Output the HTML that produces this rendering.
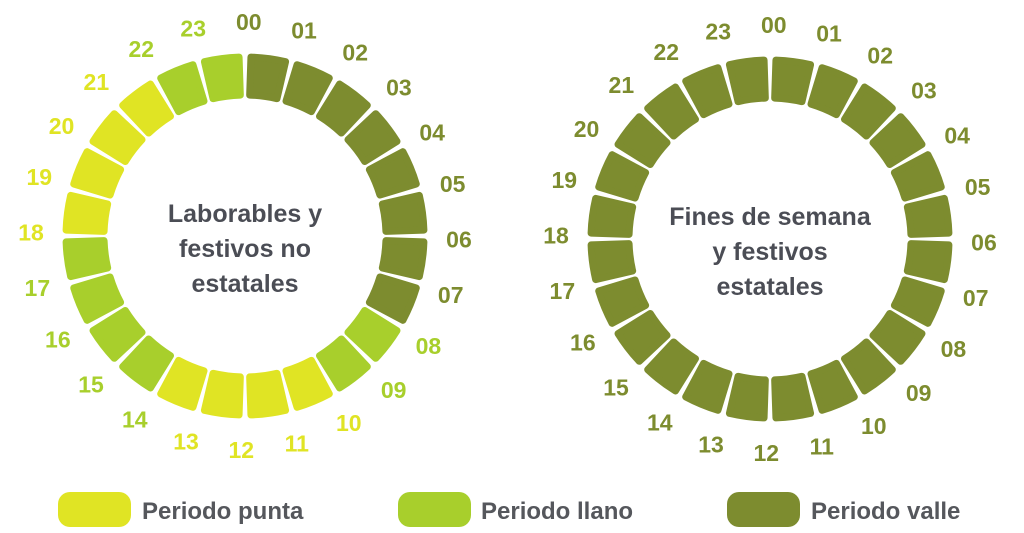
<!DOCTYPE html>
<html><head><meta charset="utf-8"><style>
body{margin:0;background:#fff;width:1024px;height:533px;overflow:hidden}
svg{display:block}
text{font-family:"Liberation Sans",sans-serif;font-weight:bold}
</style></head><body>
<svg id="c" width="1024" height="533" viewBox="0 0 1024 533">
<g>
<rect x="58" y="492" width="73" height="35" rx="12" fill="#e0e424"/>
<text x="142" y="519" font-size="24" fill="#55575c">Periodo punta</text>
<rect x="398" y="492" width="73" height="35" rx="12" fill="#a8cf2c"/>
<text x="481" y="519" font-size="24" fill="#55575c">Periodo llano</text>
<rect x="727" y="492" width="73" height="35" rx="12" fill="#7d8c2f"/>
<text x="811" y="519" font-size="24" fill="#55575c">Periodo valle</text>
</g>
</svg>
<script>
const hours=["00","01","02","03","04","05","06","07","08","09","10","11","12","13","14","15","16","17","18","19","20","21","22","23"];
const weekdayPeriods=["V","V","V","V","V","V","V","V","L","L","P","P","P","P","L","L","L","L","P","P","P","P","L","L"];
const weekendPeriods=["V","V","V","V","V","V","V","V","V","V","V","V","V","V","V","V","V","V","V","V","V","V","V","V"];
const weekdayTitle=["Laborables y","festivos no","estatales"];
const weekendTitle=["Fines de semana","y festivos","estatales"];
const colors={P:"#e0e424",L:"#a8cf2c",V:"#7d8c2f"};
const NS="http://www.w3.org/2000/svg";
const svg=document.getElementById("c");
function pt(cx,cy,r,a){const t=(a-90)*Math.PI/180;return [cx+r*Math.cos(t),cy+r*Math.sin(t)];}
function ring(cx,cy,periods,title,name){
  const g=document.createElementNS(NS,"g");
  
  
  svg.appendChild(g);
  const ri=141,ro=179,gap=1.9;
  periods.forEach((p,i)=>{
    const a0=i*15+gap,a1=(i+1)*15-gap;
    const A=pt(cx,cy,ro,a0),B=pt(cx,cy,ro,a1),C=pt(cx,cy,ri,a1),D=pt(cx,cy,ri,a0);
    const path=document.createElementNS(NS,"path");
    path.setAttribute("d",`M${A[0]},${A[1]} A${ro},${ro} 0 0 1 ${B[0]},${B[1]} L${C[0]},${C[1]} A${ri},${ri} 0 0 0 ${D[0]},${D[1]} Z`);
    path.setAttribute("fill",colors[p]);path.setAttribute("stroke",colors[p]);
    path.setAttribute("stroke-width","7");path.setAttribute("stroke-linejoin","round");
    
    
    g.appendChild(path);
    const L=pt(cx,cy,214,i*15+1);
    const t=document.createElementNS(NS,"text");
    t.setAttribute("x",L[0]);t.setAttribute("y",L[1]+8);t.setAttribute("text-anchor","middle");
    t.setAttribute("font-size","23");t.setAttribute("fill",colors[p]);
    t.textContent=hours[i];
    
    
    g.appendChild(t);
  });
  title.forEach((s,k)=>{
    const t=document.createElementNS(NS,"text");
    t.setAttribute("x",cx);t.setAttribute("y",cy-14+k*35);t.setAttribute("text-anchor","middle");
    t.setAttribute("font-size","25");t.setAttribute("fill","#4b4d55");
    t.textContent=s;
    
    
    g.appendChild(t);
  });
}
ring(245,236,weekdayPeriods,weekdayTitle,"weekday-ring");
ring(770,239,weekendPeriods,weekendTitle,"weekend-ring");
</script>
</body></html>
